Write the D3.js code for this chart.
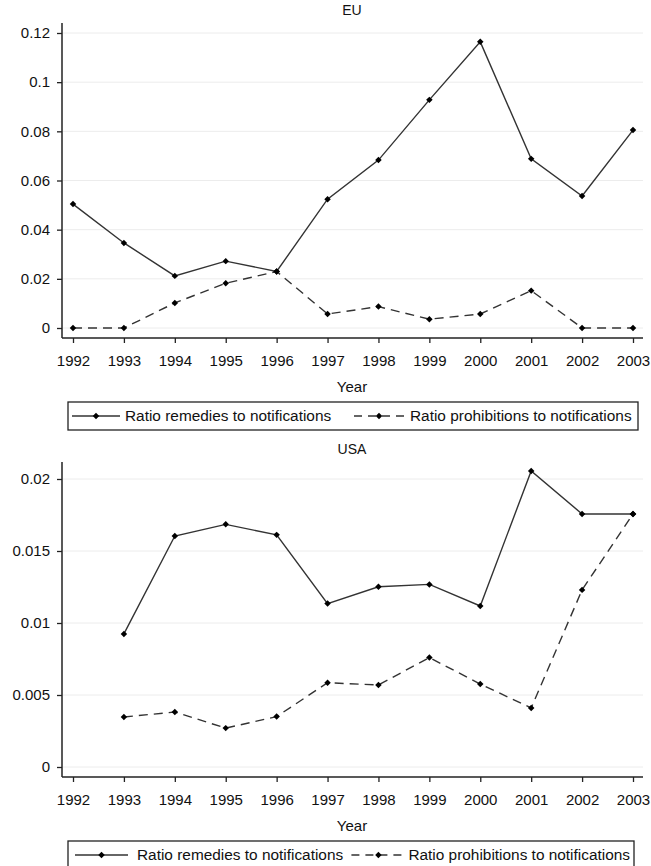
<!DOCTYPE html>
<html>
<head>
<meta charset="utf-8">
<script src="https://cdn.jsdelivr.net/npm/d3@7"></script>
<style>
  body { margin: 0; background: #fff; }
  svg { display: block; font-family: "Liberation Sans", Arial, sans-serif; }
</style>
</head>
<body>
<svg id="chart" width="651" height="866"></svg>
<script>
// values
var years = [1992, 1993, 1994, 1995, 1996, 1997, 1998, 1999, 2000, 2001, 2002, 2003];
var euRemedies = [0.0504, 0.0346, 0.0212, 0.0272, 0.0230, 0.0524, 0.0683, 0.0928, 0.1164, 0.0688, 0.0537, 0.0805];
var euProhibitions = [0, 0, 0.0102, 0.0182, 0.0230, 0.0057, 0.0087, 0.0036, 0.0057, 0.0152, 0, 0];

var usaYears = [1993, 1994, 1995, 1996, 1997, 1998, 1999, 2000, 2001, 2002, 2003];
var usaRemedies = [0.00924, 0.01604, 0.01685, 0.01612, 0.01135, 0.01252, 0.01268, 0.01118, 0.02056, 0.01757, 0.01757];
var usaProhibitions = [0.00347, 0.00382, 0.00270, 0.00350, 0.00585, 0.00570, 0.00760, 0.00576, 0.00410, 0.01230, 0.01757];

var euTicks = [0, 0.02, 0.04, 0.06, 0.08, 0.1, 0.12];
var euTickLabels = ["0", "0.02", "0.04", "0.06", "0.08", "0.1", "0.12"];
var usaTicks = [0, 0.005, 0.01, 0.015, 0.02];
var usaTickLabels = ["0", "0.005", "0.01", "0.015", "0.02"];

var legendLabels = ["Ratio remedies to notifications", "Ratio prohibitions to notifications"];

var chart = d3.select("#chart");
var left = 62, right = 643;
var dash = "9,6";

var x = d3.scaleLinear().domain([1992, 2003]).range([73, 633]);

// rotated square marker
var diamond = {
  draw: function(context, size) {
    var r = Math.sqrt(size) / 2;
    context.moveTo(0, -r);
    context.lineTo(r, 0);
    context.lineTo(0, r);
    context.lineTo(-r, 0);
    context.closePath();
  }
};
var marker = d3.symbol().type(diamond).size(42);

function drawPanel(p) {
  var g = chart.append("g");
  var y = d3.scaleLinear().domain(p.domain).range(p.range);

  // grid
  g.selectAll(".grid").data(p.ticks).enter().append("line")
    .attr("x1", left + 1).attr("x2", right)
    .attr("y1", function(d){ return y(d); })
    .attr("y2", function(d){ return y(d); })
    .style("stroke", "#ececec")
    .style("stroke-width", "1px");

  // y axis
  var yAxis = d3.axisLeft(y).tickValues(p.ticks).tickSize(5).tickPadding(7)
    .tickFormat(function(d, i){ return p.tickLabels[i]; });
  var ya = g.append("g").attr("transform", "translate(" + left + ",0)").call(yAxis);
  ya.select(".domain").remove();
  ya.selectAll("text").style("font-size", "15px").style("fill", "#111");
  ya.selectAll("line").style("stroke", "#222").style("stroke-width", "1.3px");

  // x axis
  var xAxis = d3.axisBottom(x).tickValues(years).tickSize(5).tickPadding(12)
    .tickFormat(d3.format("d"));
  var xa = g.append("g").attr("transform", "translate(0," + p.axisY + ")").call(xAxis);
  xa.select(".domain").remove();
  xa.selectAll("text").style("font-size", "15px").style("fill", "#111");
  xa.selectAll("line").style("stroke", "#222").style("stroke-width", "1.3px");

  g.append("line")
    .attr("x1", left).attr("x2", left)
    .attr("y1", p.axisTop).attr("y2", p.axisY)
    .style("stroke", "#222").style("stroke-width", "1.5px");
  g.append("line")
    .attr("x1", left).attr("x2", right)
    .attr("y1", p.axisY).attr("y2", p.axisY)
    .style("stroke", "#222").style("stroke-width", "1.5px");

  // title and axis title
  g.append("text").attr("x", 352).attr("y", p.axisTop - 8)
    .attr("text-anchor", "middle").style("font-size", "14px").style("fill", "#111")
    .text(p.title);
  g.append("text").attr("x", 352).attr("y", p.axisY + 54)
    .attr("text-anchor", "middle").style("font-size", "15px").style("fill", "#111")
    .text("Year");

  var line = d3.line()
    .x(function(d){ return x(d[0]); })
    .y(function(d){ return y(d[1]); });

  var series = [
    { values: d3.zip(p.years, p.remedies), dash: null },
    { values: d3.zip(p.years, p.prohibitions), dash: dash }
  ];

  series.forEach(function(s) {
    g.append("path")
      .datum(s.values)
      .attr("d", line)
      .style("fill", "none")
      .style("stroke", "#333")
      .style("stroke-width", "1.4px")
      .style("stroke-dasharray", s.dash);
    g.selectAll(null).data(s.values).enter().append("path")
      .attr("d", marker)
      .attr("transform", function(d){ return "translate(" + x(d[0]) + "," + y(d[1]) + ")"; })
      .style("fill", "#000");
  });

  // legend
  var lg = p.legend;
  g.append("rect")
    .attr("x", lg.x).attr("y", lg.y)
    .attr("width", lg.w).attr("height", 28)
    .style("fill", "#fff").style("stroke", "#222").style("stroke-width", "1.3px");
  var ly = lg.y + 14;
  lg.items.forEach(function(it, i) {
    var t = g.append("text").attr("y", ly + 5)
      .style("font-size", "15.4px").style("fill", "#111")
      .text(legendLabels[i]);
    var tx = it.tx;
    if (it.end) {
      tx = it.end - t.node().getComputedTextLength();
    }
    t.attr("x", tx);
    var x2 = it.end ? tx - 3 : it.x2;
    var x1 = it.end ? x2 - 54 : it.x1;
    g.append("line")
      .attr("x1", x1).attr("x2", x2)
      .attr("y1", ly).attr("y2", ly)
      .style("stroke", "#333").style("stroke-width", "1.4px")
      .style("stroke-dasharray", i === 1 ? "8,6" : null);
    g.append("path").attr("d", marker)
      .attr("transform", "translate(" + ((x1 + x2) / 2) + "," + ly + ")")
      .style("fill", "#000");
  });
}

drawPanel({
  title: "EU",
  domain: [0, 0.12], range: [328, 33],
  ticks: euTicks, tickLabels: euTickLabels,
  axisTop: 23, axisY: 338,
  years: years, remedies: euRemedies, prohibitions: euProhibitions,
  legend: { x: 68, y: 402, w: 570,
    items: [ { x1: 72, x2: 120, tx: 125 }, { x1: 354, x2: 404, tx: 410 } ] }
});

drawPanel({
  title: "USA",
  domain: [0, 0.02], range: [767, 479],
  ticks: usaTicks, tickLabels: usaTickLabels,
  axisTop: 462, axisY: 777,
  years: usaYears, remedies: usaRemedies, prohibitions: usaProhibitions,
  legend: { x: 68, y: 841, w: 566,
    items: [ { x1: 75, x2: 128, tx: 137 }, { end: 630 } ] }
});
</script>
</body>
</html>
